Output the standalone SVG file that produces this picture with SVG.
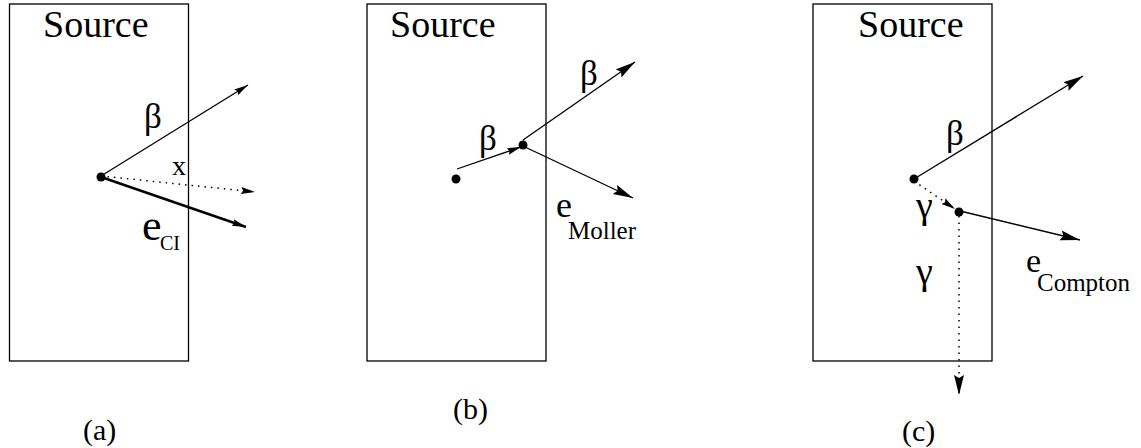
<svg xmlns="http://www.w3.org/2000/svg" width="1141" height="448" viewBox="0 0 1141 448">
<style>
.box{fill:none;stroke:#000;stroke-width:1.3}
.ln{fill:none;stroke:#000;stroke-width:1.3}
.thick{fill:none;stroke:#000;stroke-width:2.6}
.dot{fill:none;stroke:#000;stroke-width:1.5;stroke-dasharray:1.5 5}
.src{font-size:38px}
.gr{font-size:35px}
.gm{font-size:38px}
.lab{font-size:30px}
</style>
<defs>
<marker id="ah" markerUnits="userSpaceOnUse" markerWidth="22" markerHeight="12" refX="20" refY="5" orient="auto"><path d="M0,0 L20,5 L0,10 L3,5 z" fill="#000"/></marker>
<marker id="ahs" markerUnits="userSpaceOnUse" markerWidth="16" markerHeight="10" refX="14" refY="3.5" orient="auto"><path d="M0,0 L14,3.5 L0,7 L2,3.5 z" fill="#000"/></marker>
</defs>
<rect width="1141" height="448" fill="#fff"/>
<g id="panel-a" font-family="'Liberation Serif', 'DejaVu Serif', serif">
<rect class="box" x="9.5" y="4" width="179" height="357"/>
<text class="src" x="43" y="37">Source</text>
<circle cx="101" cy="177" r="4.5"/>
<text class="gr" x="144" y="128">β</text>
<text x="172" y="175" font-size="28">x</text>
<text x="142" y="240" font-size="44">e</text>
<text x="160" y="250" font-size="20">CI</text>
<text class="lab" x="83" y="440">(a)</text>
</g>
<g id="panel-b" font-family="'Liberation Serif', 'DejaVu Serif', serif">
<rect class="box" x="367" y="4" width="179" height="357"/>
<text class="src" x="390" y="37">Source</text>
<circle cx="456" cy="179" r="4.5"/>
<circle cx="523" cy="145" r="4.5"/>
<text class="gr" x="479" y="150">β</text>
<text class="gr" x="580" y="85">β</text>
<text x="556" y="217" font-size="36">e</text>
<text x="568" y="239" font-size="25">Moller</text>
<text class="lab" x="453" y="419">(b)</text>
</g>
<g id="panel-c" font-family="'Liberation Serif', 'DejaVu Serif', serif">
<rect class="box" x="813" y="4" width="179" height="357"/>
<text class="src" x="858" y="37">Source</text>
<circle cx="914" cy="179" r="4.5"/>
<circle cx="959" cy="212" r="4.5"/>
<text class="gr" x="946" y="145">β</text>
<text class="gm" x="916" y="218">γ</text>
<text class="gm" x="916" y="284">γ</text>
<text x="1026" y="272" font-size="34">e</text>
<text x="1037" y="291" font-size="25">Compton</text>
<text class="lab" x="902" y="441">(c)</text>
</g>
<g id="connectors">
<line class="ln" x1="101" y1="176" x2="248" y2="85" marker-end="url(#ahs)"/>
<line class="dot" x1="101" y1="176" x2="255" y2="192" marker-end="url(#ahs)"/>
<line class="thick" x1="101" y1="177" x2="246" y2="227" marker-end="url(#ahs)"/>
<line class="ln" x1="457" y1="169" x2="521" y2="147" marker-end="url(#ahs)"/>
<line class="ln" x1="523" y1="140" x2="635" y2="62" marker-end="url(#ah)"/>
<line class="ln" x1="525" y1="147" x2="633" y2="198" marker-end="url(#ah)"/>
<line class="ln" x1="914" y1="179" x2="1083" y2="76" marker-end="url(#ah)"/>
<line class="dot" x1="914" y1="181" x2="955" y2="209" marker-end="url(#ahs)"/>
<line class="ln" x1="960" y1="211" x2="1080" y2="240" marker-end="url(#ah)"/>
<line class="dot" x1="959" y1="216" x2="959" y2="395" marker-end="url(#ah)"/>
</g>
</svg>
